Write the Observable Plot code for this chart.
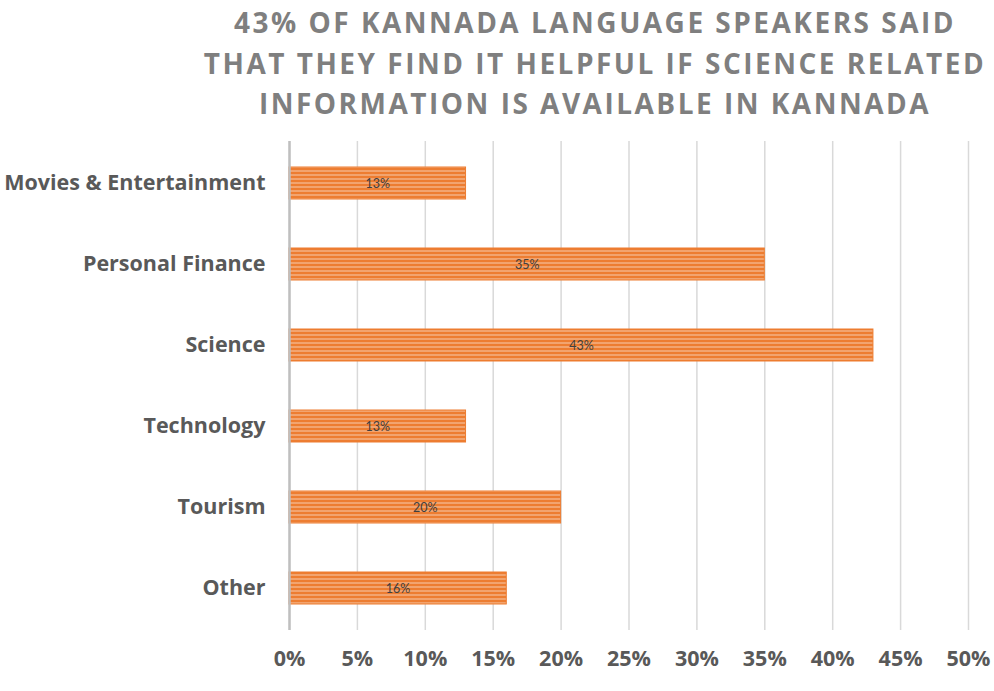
<!DOCTYPE html>
<html>
<head>
<meta charset="utf-8">
<script src="https://cdn.jsdelivr.net/npm/d3@7"></script>
<script src="https://cdn.jsdelivr.net/npm/@observablehq/plot@0.6"></script>
<style>
  html, body { margin: 0; padding: 0; background: #fff; }
  #wrap { position: relative; width: 994px; height: 691px; }
  #title {
    position: absolute; left: 195px; width: 800px; top: 2px;
    text-align: center; font-family: "Open Sans", sans-serif;
    font-weight: bold; font-size: 28px; line-height: 40.5px; letter-spacing: 2.5px;
    color: #7f7f7f; white-space: nowrap;
  }
</style>
</head>
<body>
<div id="wrap">
  <div id="chart"></div>
  <div id="title">43% OF KANNADA LANGUAGE SPEAKERS SAID<br>THAT THEY FIND IT HELPFUL IF SCIENCE RELATED<br>INFORMATION IS AVAILABLE IN KANNADA</div>
</div>
<script>
const categories = ["Movies & Entertainment", "Personal Finance", "Science", "Technology", "Tourism", "Other"];
const values = [0.13, 0.35, 0.43, 0.13, 0.20, 0.16];
const xTicks = [0, 0.05, 0.10, 0.15, 0.20, 0.25, 0.30, 0.35, 0.40, 0.45, 0.50];

const data = categories.map((c, i) => ({category: c, value: values[i]}));
const pct = d3.format(".0%");

const chart = Plot.plot({
  width: 994,
  height: 691,
  marginTop: 141,
  marginBottom: 61,
  marginLeft: 289,
  marginRight: 26,
  style: {fontFamily: "'Open Sans', sans-serif", background: "#fff"},
  x: {domain: [0, 0.5], ticks: xTicks, tickFormat: pct},
  y: {domain: categories, paddingInner: 0.6, paddingOuter: 0.3},
  marks: [
    Plot.gridX(xTicks, {stroke: "#d9d9d9", strokeOpacity: 1, strokeWidth: 1.5}),
    Plot.barX(data, {x: "value", y: "category", fill: "url(#stripes)", stroke: "#ED7D31", strokeWidth: 1}),
    Plot.ruleX([0], {stroke: "#bfbfbf", strokeWidth: 2.5}),
    Plot.text(data, {x: d => d.value / 2, y: "category", text: d => pct(d.value), fill: "#404040", fontSize: 12.5, fontFamily: "Lato, sans-serif"}),
    Plot.axisX({ticks: xTicks, tickFormat: pct, tickSize: 0, tickPadding: 20, fontSize: 21.5, fontWeight: "bold", fill: "#595959", label: null}),
    Plot.axisY({tickSize: 0, tickPadding: 24, fontSize: 21.5, fontWeight: "bold", fill: "#595959", label: null})
  ]
});

const svg = d3.select(chart);
const defs = svg.insert("defs", ":first-child");
const pat = defs.append("pattern")
  .attr("id", "stripes")
  .attr("patternUnits", "userSpaceOnUse")
  .attr("width", 8).attr("height", 4);
pat.append("rect").attr("width", 8).attr("height", 4).attr("fill", "#ED7D31");
pat.append("rect").attr("y", 2.5).attr("width", 8).attr("height", 1).attr("fill", "#F8CBAD");

document.getElementById("chart").appendChild(chart);
</script>
</body>
</html>
